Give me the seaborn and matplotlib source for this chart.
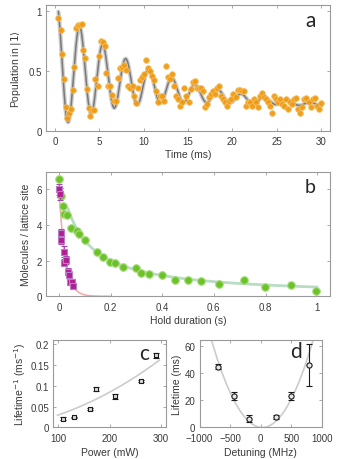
import numpy as np
import pandas as pd
import matplotlib
matplotlib.use("Agg")
import matplotlib.pyplot as plt
import seaborn as sns

# ---- panel a: Rabi-like oscillation ----
time_ms = [0.37, 0.64, 0.82, 1.05, 1.24, 1.39, 1.61, 1.84, 1.99, 2.17, 2.36, 2.59, 2.81, 3.04,
           3.19, 3.37, 3.6, 3.79, 3.97, 4.2, 4.46, 4.57, 4.87, 4.99, 5.21, 5.44, 5.66, 5.81,
           5.96, 6.22, 6.45, 6.64, 6.9, 7.12, 7.39, 7.61, 7.8, 8.02, 8.25, 8.47, 8.77, 8.96,
           9.19, 9.41, 9.64, 9.86, 10.09, 10.27, 10.5, 10.72, 10.95, 11.17, 11.4, 11.59, 11.81,
           12.04, 12.26, 12.52, 12.75, 12.97, 13.2, 13.42, 13.65, 13.87, 14.14, 14.36, 14.59,
           14.81, 15.07, 15.3, 15.52, 15.75, 15.97, 16.2, 16.42, 16.65, 16.87, 17.1, 17.36,
           17.59, 17.81, 18.04, 18.26, 18.49, 18.71, 18.94, 19.2, 19.42, 19.65, 19.87, 20.1,
           20.36, 20.59, 20.81, 21.04, 21.26, 21.48, 21.71, 21.93, 22.2, 22.42, 22.65, 22.87,
           23.1, 23.32, 23.55, 23.77, 24.0, 24.26, 24.45, 24.67, 24.9, 25.12, 25.35, 25.57,
           25.83, 26.06, 26.28, 26.51, 26.73, 26.96, 27.18, 27.41, 27.63, 27.86, 28.08, 28.31,
           28.57, 28.8, 29.02, 29.25, 29.47, 29.7, 29.92]
population = [0.94, 0.84, 0.64, 0.43, 0.20, 0.11, 0.15, 0.18, 0.34, 0.53, 0.86, 0.88, 0.885, 0.89,
              0.67, 0.61, 0.35, 0.19, 0.12, 0.17, 0.17, 0.43, 0.37, 0.62, 0.75, 0.74, 0.71, 0.48,
              0.37, 0.37, 0.30, 0.25, 0.25, 0.44, 0.52, 0.53, 0.545, 0.51, 0.37, 0.355, 0.37, 0.29,
              0.23, 0.355, 0.42, 0.45, 0.47, 0.59, 0.52, 0.50, 0.455, 0.42, 0.335, 0.24, 0.29,
              0.29, 0.25, 0.54, 0.45, 0.43, 0.47, 0.37, 0.29, 0.265, 0.21, 0.24, 0.355,
              0.29, 0.24, 0.35, 0.41, 0.415, 0.36, 0.36, 0.355, 0.335, 0.195, 0.22, 0.28,
              0.31, 0.335, 0.31, 0.36, 0.37, 0.29, 0.265, 0.24, 0.21, 0.25, 0.265, 0.31,
              0.28, 0.34, 0.34, 0.335, 0.335, 0.21, 0.24, 0.24, 0.21, 0.265, 0.24, 0.195,
              0.29, 0.315, 0.28, 0.265, 0.24, 0.21, 0.15, 0.29, 0.265, 0.24, 0.265, 0.22,
              0.21, 0.265, 0.18, 0.24, 0.22, 0.265, 0.27, 0.18, 0.15, 0.20, 0.265, 0.27,
              0.24, 0.195, 0.265, 0.27, 0.21, 0.18, 0.23]
# damped oscillation fit parameters
osc_offset, osc_drift, osc_drift_tau = 0.14, 0.41, 18.0
osc_amp, osc_tau, osc_period, osc_t0 = 0.539, 8.0, 2.6, 0.2

# ---- panel b: molecule loss ----
hold_green = [0.0, 0.01, 0.014, 0.021, 0.03, 0.048, 0.069, 0.079, 0.1, 0.149, 0.17, 0.198,
              0.219, 0.247, 0.298, 0.318, 0.349, 0.398, 0.448, 0.498, 0.549, 0.618, 0.718,
              0.798, 0.898, 0.997]
mol_green = [6.57, 5.63, 5.05, 4.6, 4.58, 3.86, 3.64, 3.49, 3.17, 2.51, 2.2, 1.91, 1.88, 1.67,
             1.61, 1.29, 1.24, 1.2, 0.94, 0.94, 0.86, 0.69, 0.94, 0.54, 0.64, 0.28]
hold_magenta = [0.0, 0.004, 0.009, 0.008, 0.018, 0.021, 0.028, 0.035, 0.04, 0.044, 0.05, 0.056]
mol_magenta = [6.0, 5.76, 3.53, 3.17, 2.51, 1.88, 2.04, 1.39, 1.22, 0.79, 0.83, 0.56]
err_magenta = [0.3, 0.35, 0.25, 0.25, 0.3, 0.2, 0.2, 0.2, 0.2, 0.15, 0.15, 0.12]
twobody_a, twobody_b = 0.14, 1.79
onebody_n0, onebody_tau = 6.2, 0.023

# ---- panel c: lifetime vs power ----
power_mw = [110, 130, 161, 173, 211, 261, 291]
inv_lifetime = [0.0215, 0.024, 0.0445, 0.093, 0.0755, 0.112, 0.173]
inv_lifetime_err = [0.003, 0.002, 0.003, 0.005, 0.006, 0.003, 0.005]
power_lin, power_quad = 1.78e-4, 1.227e-6

# ---- panel d: lifetime vs detuning ----
detuning_mhz = [-690, -440, -190, 245, 500, 790]
lifetime_ms = [45.0, 23.0, 6.5, 7.8, 23.5, 46.5]
lifetime_err = [2.0, 3.0, 2.5, 1.2, 3.0, 15.5]
det_center, det_curv = 25.0, 9.4e-5

sns.set_theme(style="ticks")
plt.rcParams['font.family'] = ['Liberation Sans', 'DejaVu Sans']
plt.rcParams['mathtext.fontset'] = 'dejavusans'

fig = plt.figure(figsize=(3.37, 4.60), dpi=100)
ax_a = fig.add_axes([0.1365, 0.7137, 0.843, 0.2733])
ax_b = fig.add_axes([0.1365, 0.3537, 0.843, 0.2709])
ax_c = fig.add_axes([0.158, 0.0685, 0.334, 0.191])
ax_d = fig.add_axes([0.592, 0.0685, 0.3635, 0.191])

spine_col = '#9a9a9a'
text_col = '#3a3a3a'
for ax in (ax_a, ax_b, ax_c, ax_d):
    for s in ax.spines.values():
        s.set_color(spine_col)
        s.set_linewidth(0.8)
        s.set_visible(True)
    ax.tick_params(direction='in', length=2.5, width=0.6, color=spine_col,
                   labelsize=7, labelcolor=text_col, top=True, right=True, pad=3)
    ax.tick_params(axis='x', pad=4)
    ax.xaxis.label.set_color(text_col)
    ax.yaxis.label.set_color(text_col)

# panel a
t_fit = np.linspace(0.4, 30, 800)
p_fit = (osc_offset + osc_drift * np.exp(-t_fit / osc_drift_tau)
         + osc_amp * np.exp(-t_fit / osc_tau) * np.cos(2 * np.pi * (t_fit - osc_t0) / osc_period))
sns.lineplot(x=t_fit, y=p_fit, ax=ax_a, color='#cdcdcd', linewidth=3.0, sort=False,
             estimator=None, zorder=2)
sns.lineplot(x=t_fit, y=p_fit, ax=ax_a, color='#7a7a7a', linewidth=1.1, sort=False,
             estimator=None, zorder=3)
sns.scatterplot(x=time_ms, y=population, ax=ax_a, s=17, color='#f09a12',
                edgecolor='#f6c267', linewidth=0.6, alpha=0.95, zorder=4)
ax_a.set_xlim(-1, 31)
ax_a.set_ylim(0, 1.05)
ax_a.set_xticks([0, 5, 10, 15, 20, 25, 30])
ax_a.set_yticks([0, 0.5, 1])
ax_a.set_yticklabels(['0', '0.5', '1'])
ax_a.set_xlabel('Time (ms)', fontsize=7.5, labelpad=2)
ax_a.set_ylabel(r'Population in $|1\rangle$', fontsize=7.5, labelpad=4)
ax_a.text(0.93, 0.88, 'a', transform=ax_a.transAxes, fontsize=15, ha='center',
          va='center', family='Lato')

# panel b
tg = np.linspace(0.035, 1.0, 300)
ng = 1.0 / (twobody_a + twobody_b * tg)
tm = np.linspace(0.0, 0.2, 300)
nm = onebody_n0 * np.exp(-tm / onebody_tau)
sns.lineplot(x=tg, y=ng, ax=ax_b, color='#b9dcc2', linewidth=2, sort=False, estimator=None,
             zorder=2)
sns.lineplot(x=tm, y=nm, ax=ax_b, color='#f3a7a7', linewidth=1.1, sort=False, estimator=None,
             zorder=2)
sns.scatterplot(x=hold_green, y=mol_green, ax=ax_b, s=30, color='#6cc226',
                edgecolor='#a9dc84', linewidth=0.8, zorder=3)
ax_b.errorbar(hold_magenta, mol_magenta, yerr=err_magenta, fmt='none',
              ecolor='#a24ab0', elinewidth=0.8, capsize=2, capthick=0.8, zorder=4)
sns.scatterplot(x=hold_magenta, y=mol_magenta, ax=ax_b, s=16, marker='s', color='#b01f8f',
                edgecolor='#b77ccb', linewidth=0.8, zorder=5)
ax_b.set_xlim(-0.05, 1.05)
ax_b.set_ylim(0, 7)
ax_b.set_xticks([0, 0.2, 0.4, 0.6, 0.8, 1])
ax_b.set_xticklabels(['0', '0.2', '0.4', '0.6', '0.8', '1'])
ax_b.set_yticks([0, 2, 4, 6])
ax_b.set_xlabel('Hold duration (s)', fontsize=7.5, labelpad=2)
ax_b.set_ylabel('Molecules / lattice site', fontsize=7.5, labelpad=4)
ax_b.text(0.93, 0.88, 'b', transform=ax_b.transAxes, fontsize=14, ha='center',
          va='center', family='Lato')

# panel c
pw = np.linspace(98, 298, 200)
sns.lineplot(x=pw, y=power_lin * pw + power_quad * pw ** 2, ax=ax_c, color='#cccccc',
             linewidth=1.2, sort=False, estimator=None, zorder=2)
ax_c.errorbar(power_mw, inv_lifetime, yerr=inv_lifetime_err, fmt='none', ecolor='#1a1a1a',
              elinewidth=0.8, capsize=2.2, capthick=0.8, zorder=3)
sns.scatterplot(x=power_mw, y=inv_lifetime, ax=ax_c, s=9, marker='s', color='#d9d9d9',
                edgecolor='#1a1a1a', linewidth=0.8, zorder=4)
ax_c.set_xlim(90, 310)
ax_c.set_ylim(0, 0.211)
ax_c.set_xticks([100, 200, 300])
ax_c.set_yticks([0, 0.05, 0.1, 0.15, 0.2])
ax_c.set_yticklabels(['0', '0.05', '0.1', '0.15', '0.2'])
ax_c.set_xlabel('Power (mW)', fontsize=7.5, labelpad=3)
ax_c.set_ylabel(r'Lifetime$^{-1}$ (ms$^{-1}$)', fontsize=7.5, labelpad=2)
ax_c.text(0.81, 0.85, 'c', transform=ax_c.transAxes, fontsize=15, ha='center',
          va='center', family='Lato')

# panel d
dd = np.linspace(-1000, 1000, 400)
sns.lineplot(x=dd, y=det_curv * (dd - det_center) ** 2, ax=ax_d, color='#cccccc',
             linewidth=1.2, sort=False, estimator=None, zorder=2)
ax_d.errorbar(detuning_mhz, lifetime_ms, yerr=lifetime_err, fmt='none', ecolor='#1a1a1a',
              elinewidth=0.8, capsize=2.2, capthick=0.8, zorder=3)
sns.scatterplot(x=detuning_mhz, y=lifetime_ms, ax=ax_d, s=14, marker='o', color='#e6e6e6',
                edgecolor='#1a1a1a', linewidth=0.8, zorder=4)
ax_d.set_xlim(-1000, 1000)
ax_d.set_ylim(0, 65)
ax_d.set_xticks([-1000, -500, 0, 500, 1000])
ax_d.set_yticks([0, 20, 40, 60])
ax_d.set_xlabel('Detuning (MHz)', fontsize=7.5, labelpad=3)
ax_d.set_ylabel('Lifetime (ms)', fontsize=7.5, labelpad=2)
ax_d.text(0.79, 0.87, 'd', transform=ax_d.transAxes, fontsize=15, ha='center',
          va='center', family='Lato')

fig.savefig('out.png', dpi=100)
